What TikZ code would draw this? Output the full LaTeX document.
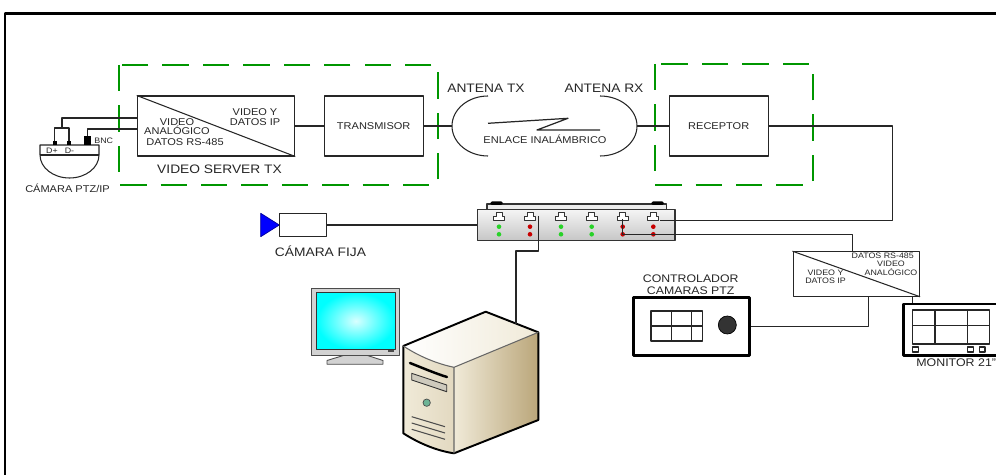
\documentclass[tikz,border=0pt]{standalone}
\usepackage{fontspec}
\setmainfont{Liberation Sans}[FakeStretch=1.12]

\definecolor{verde}{RGB}{0,150,0}
\definecolor{ledverde}{RGB}{40,210,40}
\definecolor{ledrojo}{RGB}{200,0,0}
\definecolor{crema}{RGB}{240,234,216}
\definecolor{beige}{RGB}{186,166,122}
\definecolor{boton}{RGB}{110,180,150}

\begin{document}
\begin{tikzpicture}[x=0.02cm, y=-0.02cm, line join=round,
  cable/.style={black!85, line width=0.6pt},
  caja/.style={draw=black!85, line width=0.6pt, fill=white, inner sep=0pt, text=black!85},
  pantalla/.style={draw=black, line width=1.7pt, fill=white, inner sep=0pt},
  zona/.style={draw=verde, line width=1.1pt, dash pattern=on 15pt off 8pt},
  rotulo/.style={text=black!85, inner sep=0pt, align=center, font=\fontsize{7}{7}\selectfont},
  chico/.style={text=black!85, inner sep=0pt, align=center, font=\fontsize{5.6}{5.6}\selectfont},
  mini/.style={text=black!85, inner sep=0pt, align=center, font=\fontsize{4.5}{4.65}\selectfont}]

\useasboundingbox (0,0) rectangle (996,475);
\draw[line width=1.7pt] (5,480) -- (5,14) -- (1002,14);

% zonas de transmision y recepcion
\draw[zona] (119,65) rectangle (438,185);
\draw[zona] (655,64) rectangle (813,185);

% camara PTZ
\draw[cable, fill=white] (40,155) -- (40,145) -- (99,145) -- (99,155) arc[start angle=0, end angle=180, x radius=29.5, y radius=23] -- cycle;
\draw[cable] (40,155) -- (99,155);
\fill (52.5,141) rectangle (56.5,145);
\fill (67,141) rectangle (71,145);
\fill (84,136) rectangle (91,145);
\coordinate (dmas) at (54.5,141);
\coordinate (dmenos) at (69,141);
\coordinate (dpar) at (62,128);
\coordinate (bnc) at (87.5,136);
\node[mini] (dp) at (52,150.5) {D+};
\node[mini] (dn) at (69.5,150.5) {D-};
\node[mini, anchor=west] (nbnc) at (94,140.7) {BNC};
\node[chico] (ptz) at (67.5,188) {CÁMARA PTZ/IP};

% video server, transmisor, receptor
\node[caja, minimum width=3.15cm, minimum height=1.2cm] (vstx) at (216,126) {};
\draw[cable] (vstx.north west) -- (vstx.south east);
\node[chico] (vstxip) at (255,117) {VIDEO Y\\DATOS IP};
\node[chico] (vstxan) at (177,126.7) {VIDEO\\ANALÓGICO};
\node[chico] (vstxrs) at (185,142.3) {DATOS RS-485};
\node[rotulo] (vstxnom) at (219.5,169) {VIDEO SERVER TX};

\node[caja, chico, minimum width=1.98cm, minimum height=1.2cm] (trans) at (373.7,126) {TRANSMISOR};
\node[caja, chico, minimum width=1.98cm, minimum height=1.2cm] (rec) at (718.7,126) {RECEPTOR};

\draw[cable] (dmas) |- (dpar) -| (dmenos);
\draw[cable] (dpar) |- ([yshift=0.16cm]vstx.west);
\draw[cable] (bnc) |- ([yshift=-0.06cm]vstx.west);
\draw[cable] (vstx) -- (trans);

% antenas y enlace
\coordinate (atx) at (488,126);
\coordinate (arx) at (600,126);
\coordinate (atxo) at (452,126);
\coordinate (arxe) at (637,126);
\draw[cable] (atx) ++(0,-30) arc[start angle=-90, end angle=-270, x radius=36, y radius=30];
\draw[cable] (arx) ++(0,-30) arc[start angle=-90, end angle=90, x radius=37, y radius=30];
\draw[cable, line width=0.7pt] (488,123.3) -- (568,118.3) -- (537,130) -- (600,130);
\node[rotulo] (ntx) at (486,88) {ANTENA TX};
\node[rotulo] (nrx) at (604,88) {ANTENA RX};
\node[chico] (enlace) at (545,139) {ENLACE INALÁMBRICO};
\draw[cable] (trans) -- (atxo);
\draw[cable] (arxe) -- (rec);

% switch
\draw[black!80, fill=gray!15, line width=0.6pt] (487,209) -- (487,204) -- (666.5,204) -- (666.5,209);
\fill[rounded corners=1pt] (490,205) rectangle (503,201.5);
\fill[rounded corners=1pt] (651,205) rectangle (664,201.5);
\node[draw=black!80, line width=0.6pt, top color=gray!8, bottom color=gray!45, minimum width=3.96cm, minimum height=0.63cm, inner sep=0pt] (sw) at (576,225) {};
\foreach \x/\c [count=\i] in {499/ledverde, 530/ledrojo, 561/ledverde, 591.7/ledverde, 622.7/ledrojo, 653.3/ledrojo}{
  \coordinate (p\i) at (\x,216);
  \draw[black!80, fill=white, line width=0.5pt] (\x-5.5,220) -- (\x-5.5,216) -- (\x-3,216) -- (\x-3,212) -- (\x+3,212) -- (\x+3,216) -- (\x+5.5,216) -- (\x+5.5,220) -- cycle;
  \fill[\c] (\x,226.7) circle (2.3) (\x,234.3) circle (2.3);
}

% camara fija
\fill[blue, draw=blue!60!black] (260.7,213.3) -- (279.3,225) -- (260.7,236.7) -- cycle;
\node[caja, minimum width=0.95cm, minimum height=0.46cm] (cf) at (303,225) {};
\node[rotulo] (ncf) at (320.5,251.7) {CÁMARA FIJA};
\draw[cable] (cf) -- (sw);

% monitor del computador
\draw[gray!60!black, fill=gray!35, line width=0.5pt] (345,355) -- (366,355) -- (383,360.5) -- (383,364.3) -- (327,364.3) -- (327,360.5) -- cycle;
\draw[gray!60!black, fill=gray!35, line width=0.5pt] (311.7,288.3) rectangle (399.3,355);
\shade[inner color=white!85!cyan, outer color=cyan] (316.7,292.7) rectangle (395,349.3);
\draw[black!80, line width=0.5pt] (316.7,292.7) rectangle (395,349.3);
\fill[black!70] (388,350) rectangle (394,352);

% torre
\shade[left color=white, right color=crema] (403.3,346) -- (485.7,311.7) -- (538.3,332.3) -- (454,367.3) .. controls (438,364) and (420,357) .. (403.3,346);
\shade[left color=crema, right color=crema!75!beige] (403.3,346) .. controls (420,357) and (438,364) .. (454,367.3) -- (454,453.3) .. controls (438,451) and (420,444) .. (403.3,433.3) -- cycle;
\shade[left color=crema, right color=beige] (454,367.3) -- (538.3,332.3) -- (538.3,420) -- (454,453.3) -- cycle;
\draw[line width=1.1pt] (403.3,346) -- (485.7,311.7) -- (538.3,332.3) -- (538.3,420) -- (454,453.3) .. controls (438,451) and (420,444) .. (403.3,433.3) -- cycle;
\draw[line width=0.6pt, black!60] (403.3,346) .. controls (420,357) and (438,364) .. (454,367.3) -- (538.3,332.3) (454,367.3) -- (454,453.3);
\draw[line width=1.4pt, line cap=round] (410,363) .. controls (425,369) and (437,374) .. (447,377);
\draw[black!80, fill=crema!70!gray, line width=0.5pt] (411.7,373.3) -- (446.7,385) -- (446.7,391.7) -- (411.7,380) -- cycle;
\draw[black!70, fill=boton] (426.7,402.7) circle (3.7);
\foreach \d in {0,6.3,12.6}
  \draw[black!70, line width=0.6pt] (411.7,416.7+\d) -- (445,426.7+\d);
\coordinate (torre) at (516,323.6);
\draw[cable] ([xshift=0.17cm]p2) -- ++(0,35) -| (torre);

% receptor al switch
\draw[cable] (rec.east) -- ++(124,0) |- ([xshift=0.14cm,yshift=-0.09cm]p6);

% video server de recepcion
\node[caja, minimum width=2.53cm, minimum height=0.89cm] (dec) at (856.3,274) {};
\draw[cable] (dec.north west) -- (dec.south east);
\node[mini] (decrs) at (882.7,256) {DATOS RS-485};
\node[mini] (decan) at (891,268.3) {VIDEO\\ANALÓGICO};
\node[mini] (decip) at (825.5,276.7) {VIDEO Y\\DATOS IP};
\draw[cable] ([yshift=-0.06cm]p5) -- ++(0,15.5) -| ([xshift=-0.07cm]dec.north);

% controlador
\node[pantalla, minimum width=2.32cm, minimum height=1.154cm] (ctrl) at (691.2,326.4) {};
\draw[cable] (651,311) rectangle (702.7,341) (671.7,311) -- (671.7,341) (691.7,311) -- (691.7,341) (651,326) -- (702.7,326);
\draw[fill=black!80] (727.3,325) circle (9);
\node[rotulo, font=\fontsize{6.25}{6.8}\selectfont] (nctrl) at (690.7,285) {CONTROLADOR\\CAMARAS PTZ};
\draw[cable] ([xshift=0.24cm]dec.south) |- (ctrl.east);

% monitor
\node[pantalla, minimum width=1.94cm, minimum height=1.04cm] (mon) at (951.6,330) {};
\draw[cable] (912.7,310) rectangle (989.3,344) (935,310) -- (935,344) (967.7,310) -- (967.7,344) (912.7,325.7) -- (989.3,325.7);
\draw[cable] (912.7,347) rectangle (918.7,352) (967.7,347) rectangle (973.3,352) (979.3,347) rectangle (985,352);
\node[rotulo, anchor=west, font=\fontsize{6.3}{6.3}\selectfont] (nmon) at (916,363) {MONITOR 21"};
\draw[cable] ([xshift=1.12cm]dec.south) -- ([xshift=1.12cm]dec.south |- mon.north);
\end{tikzpicture}
\end{document}
